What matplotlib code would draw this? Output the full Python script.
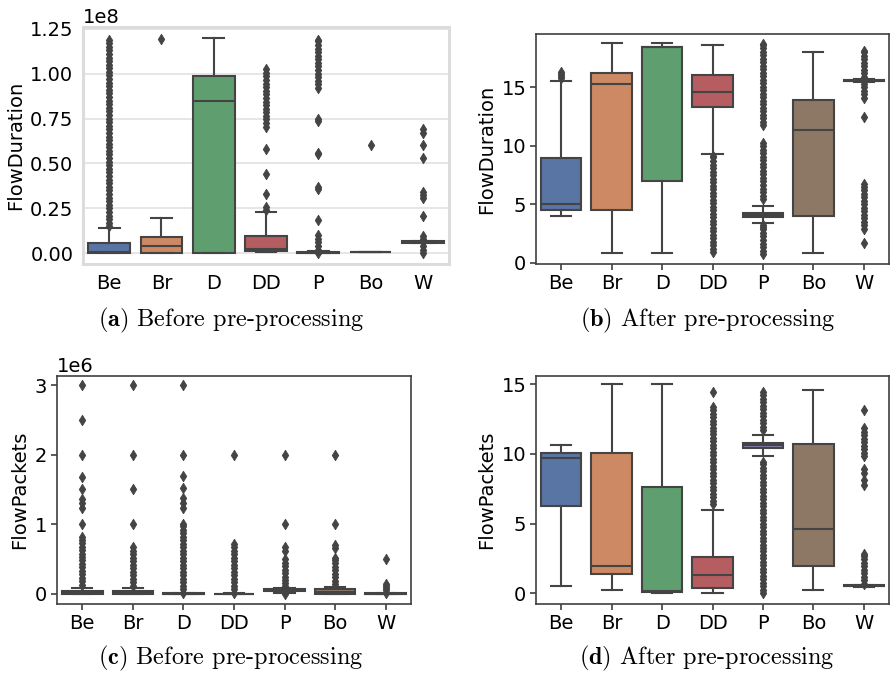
import colorsys
import matplotlib
matplotlib.use("Agg")
import matplotlib.pyplot as plt
import matplotlib.colors as mcolors

plt.rcParams['font.family'] = ['DejaVu Sans']
plt.rcParams['mathtext.fontset'] = 'cm'

categories = ["Be", "Br", "D", "DD", "P", "Bo", "W"]

# ---------------- Panel (a): FlowDuration before (units of 1e8) ----------------
a_scale = 1e8
a_lo  = [0.0, 0.0, 0.0, 0.005, 0.0, 0.005, 0.055]
a_q1  = [0.0, 0.004, 0.0, 0.013, 0.0, 0.005, 0.058]
a_med = [0.005, 0.043, 0.85, 0.026, 0.003, 0.007, 0.062]
a_q3  = [0.059, 0.092, 0.985, 0.094, 0.006, 0.009, 0.066]
a_hi  = [0.142, 0.197, 1.197, 0.229, 0.01, 0.009, 0.07]
a_fliers = [
    [0.15, 0.17, 0.19, 0.21, 0.23, 0.25, 0.27, 0.29, 0.31, 0.33, 0.35, 0.37,
     0.39, 0.41, 0.43, 0.45, 0.47, 0.49, 0.51, 0.53, 0.55, 0.57, 0.59, 0.61,
     0.63, 0.65, 0.67, 0.69, 0.71, 0.73, 0.75, 0.77, 0.79, 0.81, 0.83, 0.85,
     0.87, 0.89, 0.91, 0.93, 0.95, 0.97, 0.99, 1.01, 1.03, 1.05, 1.07, 1.09,
     1.11, 1.13, 1.15, 1.17, 1.19],
    [1.193],
    [],
    [0.24, 0.256, 0.33, 0.44, 0.579, 0.705, 0.725, 0.745, 0.765, 0.785, 0.805,
     0.825, 0.845, 0.865, 0.885, 0.905, 0.925, 0.945, 0.965, 0.985, 1.005,
     1.025],
    [0.0, 0.02, 0.04, 0.06, 0.08, 0.1, 0.185, 0.36, 0.37, 0.55, 0.56, 0.735,
     0.745, 0.92, 0.94, 0.96, 0.98, 1.0, 1.02, 1.04, 1.06, 1.08, 1.10, 1.12,
     1.14, 1.16, 1.18, 1.19],
    [0.603],
    [0.0, 0.02, 0.04, 0.06, 0.08, 0.095, 0.21, 0.31, 0.325, 0.34, 0.533,
     0.603, 0.67, 0.69],
]

# ---------------- Panel (b): FlowDuration after ----------------
b_lo  = [4.0, 0.86, 0.86, 9.3, 3.37, 0.86, 15.45]
b_q1  = [4.51, 4.51, 7.02, 13.35, 3.88, 4.02, 15.5]
b_med = [5.02, 15.29, 18.4, 14.58, 4.1, 11.35, 15.55]
b_q3  = [8.93, 16.2, 18.48, 16.06, 4.28, 13.92, 15.62]
b_hi  = [15.57, 18.77, 18.77, 18.62, 4.85, 18.05, 15.7]
b_fliers = [
    [15.75, 15.95, 16.15, 16.3],
    [],
    [],
    [0.9, 1.2, 1.5, 1.8, 2.1, 2.4, 2.7, 3.0, 3.3, 3.6, 3.9, 4.2, 4.5, 4.8,
     5.1, 5.4, 5.7, 6.0, 6.3, 6.6, 6.9, 7.2, 7.5, 7.8, 8.1, 8.4, 8.7, 9.0,
     9.1],
    [0.75, 1.05, 1.35, 1.65, 1.95, 2.25, 2.55, 2.85, 3.1, 3.27,
     5.45, 5.75, 6.05, 6.35, 6.65, 6.95, 7.25, 7.55, 7.85, 8.15, 8.45, 8.75,
     9.05, 9.35, 9.65, 9.95, 10.25,
     11.75, 12.05, 12.35, 12.65, 12.95, 13.25, 13.55, 13.85, 14.15, 14.45,
     14.75, 15.05, 15.35, 15.65, 15.95, 16.25, 16.55, 16.85, 17.15, 17.45,
     17.75, 18.05, 18.35, 18.65, 18.7],
    [],
    [1.71, 2.9, 3.2, 3.5, 3.8, 4.1, 4.4, 4.7, 5.0, 5.3, 5.6, 5.9, 6.2, 6.5,
     6.7, 12.44, 14.1, 14.4, 14.7, 15.0, 15.3, 15.6, 15.9, 16.2, 16.5, 16.8,
     17.1, 17.4, 17.7, 18.0, 18.1],
]

# ---------------- Panel (c): FlowPackets before (units of 1e6) ----------------
c_scale = 1e6
c_lo  = [0.0, 0.0, 0.0, 0.0, 0.02, 0.0, 0.0]
c_q1  = [0.0, 0.0, 0.0, 0.0, 0.045, 0.005, 0.0]
c_med = [0.015, 0.01, 0.003, 0.002, 0.055, 0.03, 0.003]
c_q3  = [0.045, 0.04, 0.006, 0.005, 0.065, 0.065, 0.006]
c_hi  = [0.09, 0.08, 0.01, 0.008, 0.085, 0.105, 0.01]
c_fliers = [
    [0.13, 0.18, 0.23, 0.28, 0.33, 0.38, 0.43, 0.48, 0.53, 0.58, 0.63, 0.68,
     0.73, 0.78, 0.82, 1.0, 1.23, 1.3, 1.37, 1.51, 1.68, 2.0, 2.5, 3.0],
    [0.12, 0.17, 0.22, 0.27, 0.32, 0.37, 0.42, 0.47, 0.52, 0.57, 0.62, 0.67,
     1.0, 1.5, 2.0, 3.0],
    [0.02, 0.07, 0.12, 0.17, 0.22, 0.27, 0.32, 0.37, 0.42, 0.47, 0.52, 0.57,
     0.62, 0.67, 0.72, 0.77, 0.82, 0.87, 0.92, 0.97, 1.0, 1.24, 1.31, 1.38,
     1.52, 1.69, 2.0, 3.0],
    [0.02, 0.07, 0.12, 0.17, 0.22, 0.27, 0.32, 0.37, 0.42, 0.47, 0.52, 0.57,
     0.62, 0.67, 0.72, 2.0],
    [0.0, 0.11, 0.15, 0.2, 0.25, 0.3, 0.35, 0.4, 0.45, 0.5, 0.61, 0.67,
     1.0, 2.0],
    [0.14, 0.19, 0.24, 0.29, 0.34, 0.39, 0.44, 0.49, 0.52, 0.66, 0.7, 1.0, 2.0],
    [0.02, 0.05, 0.08, 0.11, 0.14, 0.5],
]

# ---------------- Panel (d): FlowPackets after ----------------
d_lo  = [0.53, 0.24, 0.0, 0.0, 9.84, 0.24, 0.45]
d_q1  = [6.28, 1.36, 0.07, 0.41, 10.46, 1.98, 0.5]
d_med = [9.72, 1.98, 0.17, 1.29, 10.63, 4.61, 0.53]
d_q3  = [10.1, 10.1, 7.64, 2.63, 10.82, 10.7, 0.57]
d_hi  = [10.68, 15.0, 15.0, 5.97, 11.34, 14.57, 0.62]
d_fliers = [
    [],
    [],
    [],
    [6.4, 6.65, 6.9, 7.15, 7.4, 7.65, 7.9, 8.15, 8.4, 8.65, 8.9, 9.15, 9.4,
     9.65, 9.9, 10.15, 10.4, 10.65, 10.9, 11.15, 11.4, 11.65, 11.9, 12.15,
     12.4, 12.65, 12.9, 13.15, 13.4, 14.45],
    [0.0, 0.25, 0.5, 0.75, 1.0, 1.25, 1.5, 1.75, 2.0, 2.25, 2.5, 2.75, 3.0,
     3.25, 3.5, 3.75, 4.0, 4.25, 4.5, 4.75, 5.0, 5.25, 5.5, 5.75, 6.0, 6.25,
     6.5, 6.75, 7.0, 7.25, 7.5, 7.75, 8.0, 8.25, 8.5, 8.75, 9.0, 9.25, 9.45,
     11.7, 11.95, 12.2, 12.45, 12.7, 12.95, 13.2, 13.45, 13.7, 13.95, 14.2,
     14.45],
    [],
    [0.7, 0.95, 1.2, 1.45, 1.7, 1.95, 2.2, 2.45, 2.7, 2.8, 7.8, 8.1, 8.6,
     8.95, 9.85, 10.1, 10.35, 10.6, 10.85, 11.1, 11.35, 11.6, 11.9, 13.14],
]

captions = [r"$\mathbf{(a)}$ Before pre-processing",
            r"$\mathbf{(b)}$ After pre-processing",
            r"$\mathbf{(c)}$ Before pre-processing",
            r"$\mathbf{(d)}$ After pre-processing"]

deep = ["#4C72B0", "#DD8452", "#55A868", "#C44E52", "#8172B3", "#937860", "#DA8BC3"]


def desaturate(c, prop):
    r, g, b = mcolors.to_rgb(c)
    h, l, s = colorsys.rgb_to_hls(r, g, b)
    return colorsys.hls_to_rgb(h, l, s * prop)


box_colors = [desaturate(c, 0.75) for c in deep]
gray = "#444444"
thin_diamond = [(0, -1), (0.62, 0), (0, 1), (-0.62, 0), (0, -1)]


def draw(ax, lo, q1, med, q3, hi, fliers, scale=1.0):
    stats = []
    for i in range(len(categories)):
        stats.append(dict(whislo=lo[i] * scale, q1=q1[i] * scale, med=med[i] * scale,
                          q3=q3[i] * scale, whishi=hi[i] * scale,
                          fliers=[v * scale for v in fliers[i]]))
    lw = 1.5
    bp = ax.bxp(stats, positions=range(len(categories)), widths=0.8,
                patch_artist=True, showfliers=True,
                boxprops=dict(edgecolor=gray, linewidth=lw),
                medianprops=dict(color=gray, linewidth=lw),
                whiskerprops=dict(color=gray, linewidth=lw),
                capprops=dict(color=gray, linewidth=lw),
                flierprops=dict(marker=thin_diamond, markerfacecolor=gray,
                                markeredgecolor=gray, markersize=7.5,
                                markeredgewidth=0.6, linestyle='none'))
    for patch, col in zip(bp['boxes'], box_colors):
        patch.set_facecolor(col)
    ax.set_xticks(range(len(categories)))
    ax.set_xticklabels(categories)
    ax.set_xlim(-0.5, len(categories) - 0.5)
    return bp


fig = plt.figure(figsize=(8.9, 6.73), dpi=100)
fs = 14

# (a)
ax_a = fig.add_axes([83 / 890, 1 - 264 / 673, 366 / 890, 237 / 673])
ax_a.set_axisbelow(True)
ax_a.yaxis.grid(True, color="#e4e4e4", linewidth=1.3)
draw(ax_a, a_lo, a_q1, a_med, a_q3, a_hi, a_fliers, a_scale)
ax_a.set_ylim(-0.06e8, 1.26e8)
ax_a.set_yticks([0, 0.25e8, 0.5e8, 0.75e8, 1.0e8, 1.25e8])
for s in ax_a.spines.values():
    s.set_color("#dcdcdc")
    s.set_linewidth(2.2)
ax_a.tick_params(axis='both', length=0, labelsize=fs, pad=7)
ax_a.yaxis.get_offset_text().set_fontsize(fs)
ax_a.set_ylabel("FlowDuration", fontsize=fs, labelpad=3)

# (b)
ax_b = fig.add_axes([536 / 890, 1 - 264 / 673, 353 / 890, 230 / 673])
draw(ax_b, b_lo, b_q1, b_med, b_q3, b_hi, b_fliers)
ax_b.set_ylim(-0.1, 19.55)
ax_b.set_yticks([0, 5, 10, 15])
ax_b.set_ylabel("FlowDuration", fontsize=fs)

# (c)
ax_c = fig.add_axes([57 / 890, 1 - 604 / 673, 354 / 890, 228 / 673])
draw(ax_c, c_lo, c_q1, c_med, c_q3, c_hi, c_fliers, c_scale)
ax_c.set_ylim(-0.145e6, 3.13e6)
ax_c.set_yticks([0, 1e6, 2e6, 3e6])
ax_c.yaxis.get_offset_text().set_fontsize(fs)
ax_c.set_ylabel("FlowPackets", fontsize=fs)

# (d)
ax_d = fig.add_axes([536 / 890, 1 - 604 / 673, 353 / 890, 228 / 673])
draw(ax_d, d_lo, d_q1, d_med, d_q3, d_hi, d_fliers)
ax_d.set_ylim(-0.77, 15.6)
ax_d.set_yticks([0, 5, 10, 15])
ax_d.set_ylabel("FlowPackets", fontsize=fs)

for ax in (ax_b, ax_c, ax_d):
    for s in ax.spines.values():
        s.set_color("#404040")
        s.set_linewidth(1.2)
    ax.tick_params(axis='both', direction='out', length=4, width=1.2,
                   color="#404040", labelsize=fs, pad=3)

cap_pos = [(231, 320), (708, 320), (231, 658), (707, 658)]
for (x, y), txt in zip(cap_pos, captions):
    fig.text(x / 890, 1 - y / 673, txt, ha='center', va='center',
             fontsize=17.5, family='cmr10')

fig.savefig("out.png", dpi=100)
